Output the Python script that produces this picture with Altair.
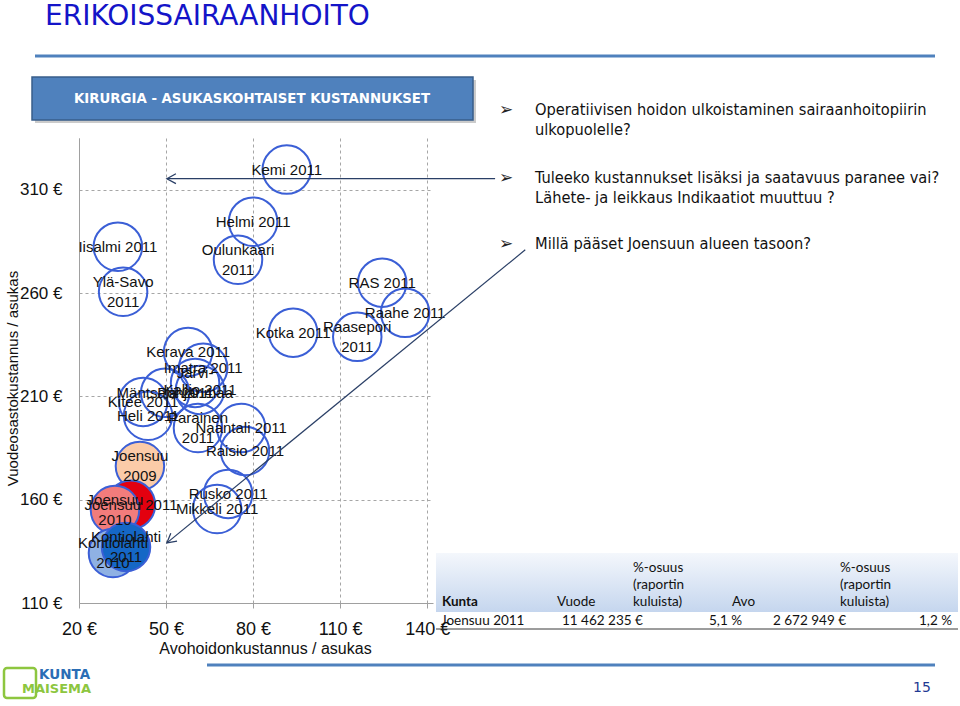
import altair as alt
import pandas as pd

# ---------------- data ----------------
labels = ["Kemi 2011", "Helmi 2011", "Iisalmi  2011", "Ylä-Savo\n2011", "Oulunkaari\n2011",
          "RAS 2011", "Raahe 2011", "Raasepori\n2011", "Kotka  2011", "Kerava 2011",
          "Imatra 2011", "Järvi-\nPohjanmaa", "Kallio 2011", "Mäntsälä 2011", "Kitee 2011",
          "Heli 2011", "Parainen\n2011", "Naantali 2011", "Raisio 2011", "Rusko 2011",
          "Mikkeli 2011", "Joensuu\n2009", "Joensuu 2011", "Joensuu\n2010",
          "Kontiolahti\n2010", "Kontiolahti\n2011"]
avo_cost = [91.6, 80.0, 33.4, 35.2, 74.8,
            124.5, 132.4, 115.9, 93.8, 57.6,
            62.8, 60.0, 61.7, 49.7, 42.1,
            43.8, 61.0, 75.9, 77.2, 71.4,
            67.6, 41.0, 37.9, 32.4,
            31.7, 36.2]
ward_cost = [319.7, 294.5, 282.4, 260.6, 276.1,
             265.0, 250.4, 238.8, 240.8, 231.5,
             223.8, 216.5, 213.1, 211.7, 207.3,
             200.6, 194.7, 194.7, 183.6, 162.8,
             155.5, 176.3, 157.5, 155.0,
             134.2, 137.1]
fill_colors = ["#ffffff"] * 21 + ["#FBCBA8", "#E3000F", "#F27C7C", "#8FB1E3", "#1567C6"]
fill_alpha = [0.0] * 21 + [1.0] * 5

x_ticks = [20, 50, 80, 110, 140]
y_ticks = [110, 160, 210, 260, 310]

# annotation arrows (data units): tail -> head
arrow_x = [163.4, 173.8]
arrow_y = [315.3, 280.9]
arrow_x2 = [50.3, 50.3]
arrow_y2 = [315.3, 139.1]
arrow_angle = [0, 321]

slide_title = "ERIKOISSAIRAANHOITO"
box_title = "KIRURGIA - ASUKASKOHTAISET KUSTANNUKSET"
bullet_lines = ["Operatiivisen hoidon ulkoistaminen sairaanhoitopiirin",
                "ulkopuolelle?",
                "Tuleeko kustannukset lisäksi ja saatavuus paranee vai?",
                "Lähete- ja leikkaus Indikaatiot muuttuu  ?",
                "Millä pääset Joensuun alueen tasoon?"]
table_header = ["Vuode", "%-osuus", "(raportin", "kuluista)", "Avo",
                "%-osuus", "(raportin", "kuluista)"]
table_row_left = ["Joensuu 2011", "11 462 235 €", "2 672 949 €"]
table_row_right = ["5,1 %", "1,2 %"]

# ---------------- layout ----------------
OX, OY = 79, 138
W, H = 354, 465
FONT = "Liberation Sans"
SLIDE_FONT = "DejaVu Sans Condensed, DejaVu Sans"


def px(xs, ys, **extra):
    d = {"px": [x - OX for x in xs], "py": [y - OY for y in ys]}
    d.update(extra)
    return pd.DataFrame(d)


one = pd.DataFrame({"k": [0]})
PX = alt.X("px:Q", scale=None, axis=None)
PY = alt.Y("py:Q", scale=None, axis=None)

xs = alt.Scale(domain=[20, 142], nice=False, zero=False)
ys = alt.Scale(domain=[110, 335], nice=False, zero=False)

bubbles = pd.DataFrame({"label": labels, "avo": avo_cost, "vuode": ward_cost,
                        "fill": fill_colors, "fo": fill_alpha,
                        "idx": list(range(len(labels)))})
bubbles["multi"] = bubbles["label"].str.contains("\n")

circles = alt.Chart(bubbles).mark_circle(
    size=2350, stroke="#3B5FD6", strokeWidth=2, opacity=1
).encode(
    x=alt.X("avo:Q", scale=xs, axis=alt.Axis(
        values=x_ticks, labelExpr="datum.value + ' €'", labelFlush=False,
        title="Avohoidonkustannus  / asukas", titleFont=FONT, titleFontSize=16,
        titleFontWeight="normal", titleColor="#111111",
        titleX=186, titleY=45, titleAlign="center", titleBaseline="middle",
        labelFont=FONT, labelFontSize=18, labelColor="#111111", labelPadding=12,
        grid=True, gridDash=[3, 3], gridColor="#A6A6A6",
        domainColor="#A0A0A0", tickColor="#A0A0A0", tickSize=5)),
    y=alt.Y("vuode:Q", scale=ys, axis=alt.Axis(
        values=y_ticks, labelExpr="datum.value + ' €'", labelFlush=False,
        title="Vuodeosastokustannus  / asukas", titleFont=FONT, titleFontSize=15,
        titleFontWeight="normal", titleColor="#111111",
        titleX=-67, titleY=240, titleAngle=270, titleAlign="center",
        titleBaseline="middle",
        labelFont=FONT, labelFontSize=17, labelColor="#111111", labelPadding=17,
        ticks=False, grid=True, gridDash=[3, 3], gridColor="#A6A6A6",
        domainColor="#A0A0A0")),
    fill=alt.Fill("fill:N", scale=None),
    fillOpacity=alt.FillOpacity("fo:Q", scale=None),
    order=alt.Order("idx:Q"),
)

text_style = dict(font=FONT, fontSize=15, lineBreak="\n", lineHeight=20,
                  color="#111111", align="center", baseline="middle")
text_enc = dict(x=alt.X("avo:Q", scale=xs, axis=None),
                y=alt.Y("vuode:Q", scale=ys, axis=None),
                text="label:N")
single_text = alt.Chart(bubbles).transform_filter("!datum.multi").mark_text(
    **text_style).encode(**text_enc)
multi_text = alt.Chart(bubbles).transform_filter("datum.multi").mark_text(
    dy=-10, **text_style).encode(**text_enc)

arrows = pd.DataFrame({"ax": arrow_x, "ay": arrow_y, "ax2": arrow_x2,
                       "ay2": arrow_y2, "ang": arrow_angle})
arrow_lines = alt.Chart(arrows).mark_rule(color="#2A3F66", strokeWidth=1.2).encode(
    x=alt.X("ax:Q", scale=xs, axis=None), y=alt.Y("ay:Q", scale=ys, axis=None),
    x2="ax2:Q", y2="ay2:Q")
arrow_heads = alt.Chart(arrows).mark_point(
    shape="M 2 -1.1 L 0 0 L 2 1.1", filled=False, size=81,
    color="#2A3F66", strokeWidth=1.3, opacity=1
).encode(
    x=alt.X("ax2:Q", scale=xs, axis=None), y=alt.Y("ay2:Q", scale=ys, axis=None),
    angle=alt.Angle("ang:Q", scale=None))

# ---------------- slide decorations ----------------
top_line = alt.Chart(one).mark_rule(color="#4F81BD", strokeWidth=3).encode(
    x=alt.value(35 - OX), x2=alt.value(935 - OX), y=alt.value(56 - OY))
bottom_line = alt.Chart(one).mark_rule(color="#4F81BD", strokeWidth=3).encode(
    x=alt.value(207 - OX), x2=alt.value(935 - OX), y=alt.value(665 - OY))

title = alt.Chart(px([45], [25], t=[slide_title])).mark_text(
    font="DejaVu Sans", fontSize=28, color="#1414C8", align="left",
    baseline="alphabetic").encode(x=PX, y=PY, text="t:N")

box_shadow = alt.Chart(one).mark_rect(fill="#8C8C8C", opacity=0.45).encode(
    x=alt.value(35 - OX), x2=alt.value(476 - OX), y=alt.value(80 - OY), y2=alt.value(123 - OY))
box = alt.Chart(one).mark_rect(fill="#4F81BD", stroke="#385D8A", strokeWidth=1.5).encode(
    x=alt.value(32 - OX), x2=alt.value(473 - OX), y=alt.value(77 - OY), y2=alt.value(120 - OY))
box_text = alt.Chart(px([252], [99], t=[box_title])).mark_text(
    font=SLIDE_FONT, fontSize=14.8, fontWeight="bold", color="#FFFFFF",
    align="center", baseline="middle").encode(x=PX, y=PY, text="t:N")

bullet_marks = alt.Chart(px([506, 506, 506], [110, 178, 244], t=["➢", "➢", "➢"])).mark_text(
    font="DejaVu Sans", fontSize=17, color="#222222", align="center",
    baseline="middle").encode(x=PX, y=PY, text="t:N")
bullet_text = alt.Chart(px([535] * 5, [110, 130, 178, 198, 244], t=bullet_lines)).mark_text(
    font=SLIDE_FONT, fontSize=16.3, color="#111111", align="left",
    baseline="middle").encode(x=PX, y=PY, text="t:N")

table_bg = alt.Chart(one).mark_rect(
    fill=alt.LinearGradient(gradient="linear", x1=0, x2=0, y1=0, y2=1, stops=[
        alt.GradientStop(color="#F4F7FC", offset=0),
        alt.GradientStop(color="#C5D6EE", offset=1)])
).encode(x=alt.value(436 - OX), x2=alt.value(958 - OX),
         y=alt.value(553 - OY), y2=alt.value(612 - OY))
table_line = alt.Chart(one).mark_rule(color="#3A3A3A", strokeWidth=1).encode(
    x=alt.value(436 - OX), x2=alt.value(958 - OX), y=alt.value(629 - OY))
kunta = alt.Chart(px([442], [602], t=["Kunta"])).mark_text(
    font="Lato", fontSize=13.5, fontWeight="bold", color="#111111", align="left",
    baseline="middle").encode(x=PX, y=PY, text="t:N")
header_text = alt.Chart(px([557, 633, 633, 633, 732, 840, 840, 840],
                           [602, 568, 585, 602, 602, 568, 585, 602], t=table_header)).mark_text(
    font="Lato", fontSize=13.5, color="#111111", align="left",
    baseline="middle").encode(x=PX, y=PY, text="t:N")
row_left = alt.Chart(px([441, 562, 773], [621, 621, 621], t=table_row_left)).mark_text(
    font="Lato", fontSize=13.5, color="#111111", align="left",
    baseline="middle").encode(x=PX, y=PY, text="t:N")
row_right = alt.Chart(px([742, 952], [621, 621], t=table_row_right)).mark_text(
    font="Lato", fontSize=13.5, color="#111111", align="right",
    baseline="middle").encode(x=PX, y=PY, text="t:N")

logo_box = alt.Chart(one).mark_rect(
    fill="#FFFFFF", stroke="#8DC63F", strokeWidth=2.5, cornerRadius=3).encode(
    x=alt.value(4 - OX), x2=alt.value(36 - OX), y=alt.value(668 - OY), y2=alt.value(698 - OY))
logo_kunta = alt.Chart(px([39], [675], t=["KUNTA"])).mark_text(
    font="DejaVu Sans", fontSize=13.5, fontWeight="bold", color="#2A6DB5",
    align="left", baseline="middle").encode(x=PX, y=PY, text="t:N")
logo_maisema = alt.Chart(px([22], [689], t=["MAISEMA"])).mark_text(
    font="DejaVu Sans", fontSize=13, fontWeight="bold", color="#8DC63F",
    align="left", baseline="middle").encode(x=PX, y=PY, text="t:N")
page_no = alt.Chart(px([922], [688], t=["15"])).mark_text(
    font="DejaVu Sans", fontSize=14, color="#1F3A93", align="center",
    baseline="middle").encode(x=PX, y=PY, text="t:N")

chart = alt.layer(
    circles, single_text, multi_text, arrow_lines, arrow_heads,
    top_line, bottom_line, title, box_shadow, box, box_text,
    bullet_marks, bullet_text, table_bg, table_line, kunta, header_text,
    row_left, row_right, logo_box, logo_kunta, logo_maisema, page_no,
).resolve_scale(
    x="independent", y="independent"
).properties(
    width=W, height=H,
    padding={"left": OX, "top": OY, "right": 960 - OX - W, "bottom": 706 - OY - H},
    autosize=alt.AutoSizeParams(type="none"),
    background="#FFFFFF",
).configure_view(stroke=None)

chart.save("out.html", embed_options={"renderer": "svg", "actions": False})
